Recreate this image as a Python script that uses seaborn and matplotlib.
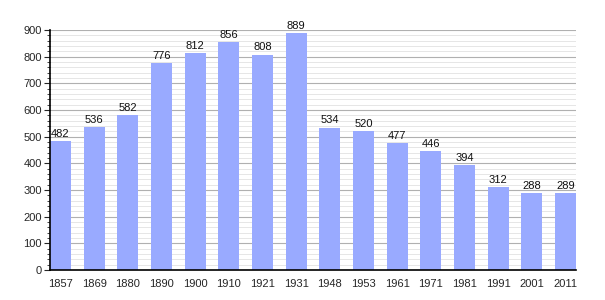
import matplotlib
matplotlib.use("Agg")
import matplotlib.pyplot as plt
import seaborn as sns
import pandas as pd
from matplotlib.ticker import MultipleLocator

years = ["1857", "1869", "1880", "1890", "1900", "1910", "1921", "1931",
         "1948", "1953", "1961", "1971", "1981", "1991", "2001", "2011"]
population = [482, 536, 582, 776, 812, 856, 808, 889,
              534, 520, 477, 446, 394, 312, 288, 289]

df = pd.DataFrame({"year": years, "pop": population})

sns.set_style("white")
plt.rcParams['font.family'] = ['Liberation Sans', 'DejaVu Sans']

fig = plt.figure(figsize=(6.05, 3.0), dpi=100)
ax = fig.add_axes([50/605, 30/300, 526/605, 240/300])

bw = 0.624
sns.barplot(data=df, x="year", y="pop", color="#99aaff", saturation=1,
            width=bw, ax=ax, zorder=3, linewidth=0, edgecolor="none")

ax.set_xlim(-bw/2, len(years) - 1 + bw/2)
ax.set_ylim(0, 900)
ax.yaxis.set_major_locator(MultipleLocator(100))
ax.yaxis.set_minor_locator(MultipleLocator(20))
ax.grid(which="major", axis="y", color="#b0b0b0", linewidth=0.8, zorder=0)
ax.grid(which="minor", axis="y", color="#e2e2e2", linewidth=0.6, zorder=0)
ax.set_axisbelow(True)

for i, v in enumerate(population):
    ax.text(i, v + 8, str(v), ha="center", va="bottom", fontsize=8, color="#111111")

for s in ["top", "right"]:
    ax.spines[s].set_visible(False)
for s in ["left", "bottom"]:
    ax.spines[s].set_color("black")
    ax.spines[s].set_linewidth(1.2)
    ax.spines[s].set_zorder(5)

ax.tick_params(axis="y", which="major", left=True, length=4, width=0.8, labelsize=8, pad=2)
ax.tick_params(axis="y", which="minor", left=True, length=2, width=0.6)
ax.tick_params(axis="x", bottom=False, labelsize=8, pad=3)
ax.set_xlabel("")
ax.set_ylabel("")

fig.savefig("out.png", dpi=100)
